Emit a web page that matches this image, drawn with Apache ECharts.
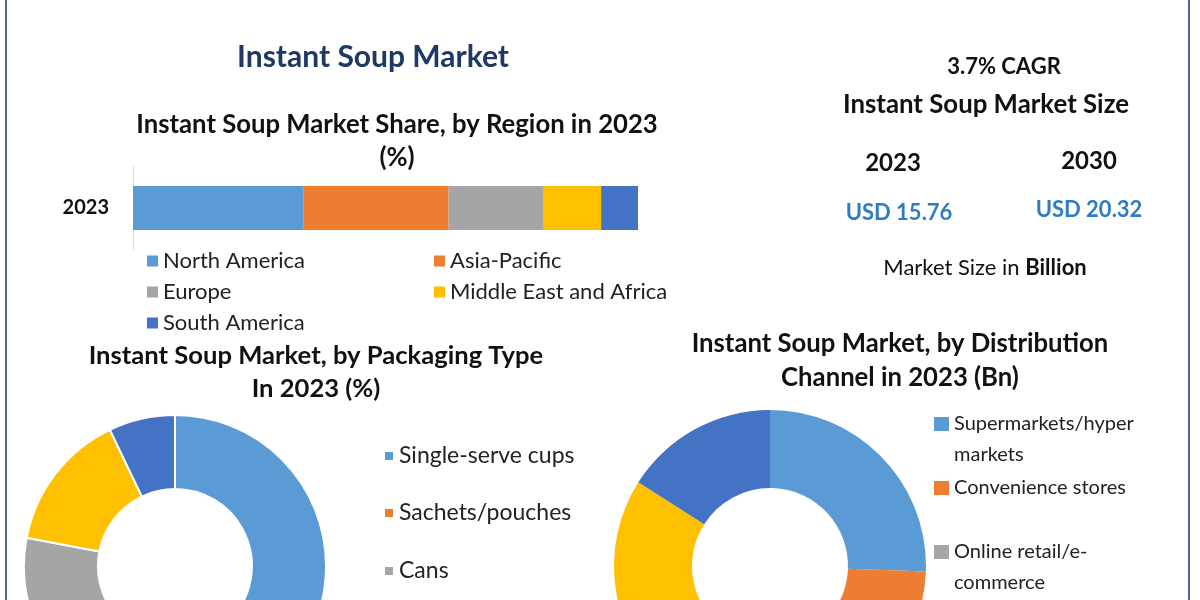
<!DOCTYPE html>
<html>
<head>
<meta charset="utf-8">
<script src="https://cdn.jsdelivr.net/npm/echarts@6/dist/echarts.min.js"></script>
<style>
  html, body { margin: 0; padding: 0; background: #fff; }
  #chart { width: 1200px; height: 600px; }
</style>
</head>
<body>
<div id="chart"></div>
<script>
// ---- data ----
const barCategories = ['2023'];
const regionNames = ['North America', 'Asia-Pacific', 'Europe', 'Middle East and Africa', 'South America'];
const regionShares = [33.7, 28.8, 18.7, 11.5, 7.3];

const packagingNames = ['Single-serve cups', 'Sachets/pouches', 'Cans', 'Tetra packs', 'Others'];
const packagingShares = [42.0, 16.0, 20.0, 14.9, 7.1];

const channelNames = ['Supermarkets/hyper markets', 'Convenience stores', 'Online retail/e-commerce', 'Specialty stores', 'Foodservice'];
const channelValues = [4.03, 3.0, 2.6, 3.61, 2.52];

const cagrText = '3.7% CAGR';
const sizeYears = ['2023', '2030'];
const sizeValues = ['USD 15.76', 'USD 20.32'];

// ---- style ----
const palette = ['#5B9BD5', '#ED7D31', '#A5A5A5', '#FFC000', '#4472C4'];
const FONT = 'Lato';

const chart = echarts.init(document.getElementById('chart'));

function t(text, x, y, size, opts) {
  opts = opts || {};
  return {
    text: text,
    left: x, top: y,
    textAlign: 'center', textVerticalAlign: 'middle',
    padding: 0,
    textStyle: Object.assign({
      fontFamily: FONT, fontSize: size, fontWeight: 'bold', color: '#111',
      lineHeight: opts.lineHeight || Math.round(size * 1.3)
    }, opts.style || {})
  };
}

const titles = [
  t('Instant Soup Market', 373, 57, 30, { style: { color: '#1F3864' } }),
  t('Instant Soup Market Share, by Region in 2023\n(%)', 397, 141, 25.7, { lineHeight: 33 }),
  t('Instant Soup Market, by Packaging Type\nIn 2023 (%)', 316, 372, 25.6, { lineHeight: 33 }),
  t('Instant Soup Market, by Distribution\nChannel in 2023 (Bn)', 900, 361, 25.7, { lineHeight: 34 }),
  t(cagrText, 1004, 67, 22),
  t('Instant Soup Market Size', 986, 105, 25.8),
  t(sizeYears[0], 893, 163, 24),
  t(sizeYears[1], 1089, 161, 24),
  t(sizeValues[0], 899, 213, 22, { style: { color: '#2E7CC4', letterSpacing: -1 } }),
  t(sizeValues[1], 1089, 210, 22, { style: { color: '#2E7CC4', letterSpacing: -1 } }),
  {
    text: '{a|Market Size in }{b|Billion}',
    left: 985, top: 268, textAlign: 'center', textVerticalAlign: 'middle', padding: 0,
    textStyle: {
      fontWeight: 'normal',
      rich: {
        a: { fontFamily: FONT, fontSize: 22, fontWeight: 'normal', color: '#111' },
        b: { fontFamily: FONT, fontSize: 22, fontWeight: 'bold', color: '#111' }
      }
    }
  }
];

const barLegendText = { fontFamily: FONT, fontSize: 22, color: '#222', lineHeight: 22 };

const legends = [
  { orient: 'vertical', left: 147, top: 250, padding: 0, itemWidth: 11, itemHeight: 11, itemGap: 9,
    icon: 'rect', data: [regionNames[0], regionNames[2], regionNames[4]], textStyle: barLegendText, selectedMode: false },
  { orient: 'vertical', left: 434, top: 250, padding: 0, itemWidth: 11, itemHeight: 11, itemGap: 9,
    icon: 'rect', data: [regionNames[1], regionNames[3]], textStyle: barLegendText, selectedMode: false }
];

// packaging legend: one row per item
const pkRowCenters = [456, 513, 571, 629, 687];
packagingNames.forEach(function (name, i) {
  legends.push({
    orient: 'vertical', left: 383, top: pkRowCenters[i] - 12, padding: 0,
    itemWidth: 10, itemHeight: 10, icon: 'rect', selectedMode: false,
    data: [name],
    textStyle: { fontFamily: FONT, fontSize: 23, color: '#222', lineHeight: 24 }
  });
});

// distribution-channel legend: icon next to the first text row
const chRowCenters = [424, 488, 552, 616, 680];
const chLabels = ['Supermarkets/hyper\nmarkets', 'Convenience stores', 'Online retail/e-\ncommerce', 'Specialty stores', 'Foodservice'];
channelNames.forEach(function (name, i) {
  const twoLine = chLabels[i].indexOf('\n') >= 0;
  const lbl = twoLine ? ' \n' + chLabels[i] : chLabels[i];
  const blockH = twoLine ? 93 : 31;
  legends.push({
    orient: 'vertical', left: 934, top: chRowCenters[i] - blockH / 2, padding: 0,
    itemWidth: 15, itemHeight: 14, icon: 'rect', selectedMode: false,
    data: [name],
    formatter: function () { return lbl; },
    textStyle: { fontFamily: FONT, fontSize: 20, color: '#222', lineHeight: 31 }
  });
});

const barSeries = regionNames.map(function (name, i) {
  return {
    type: 'bar', name: name, stack: 'share',
    data: [regionShares[i]],
    barWidth: 44,
    itemStyle: { color: palette[i] },
    emphasis: { disabled: true }
  };
});

const option = {
  backgroundColor: '#fff',
  animation: false,
  title: titles,
  legend: legends,
  grid: { left: 133, top: 166, width: 505, height: 84 },
  xAxis: { type: 'value', min: 0, max: 100, show: false },
  yAxis: {
    type: 'category', data: barCategories,
    axisLine: { lineStyle: { color: '#d9d9d9', width: 1 } },
    axisTick: { show: false },
    axisLabel: { fontFamily: FONT, fontSize: 20, fontWeight: 'bold', color: '#111', margin: 24 }
  },
  series: barSeries.concat([
    {
      type: 'pie', name: 'Packaging Type',
      center: [175, 566], radius: [77, 151],
      startAngle: 90, clockwise: true,
      label: { show: false }, labelLine: { show: false },
      emphasis: { disabled: true },
      itemStyle: { borderColor: '#fff', borderWidth: 2 },
      color: palette,
      data: packagingNames.map(function (n, i) { return { name: n, value: packagingShares[i] }; })
    },
    {
      type: 'pie', name: 'Distribution Channel',
      center: [770, 566], radius: [78, 156],
      startAngle: 90, clockwise: true,
      label: { show: false }, labelLine: { show: false },
      emphasis: { disabled: true },
      itemStyle: { borderColor: '#fff', borderWidth: 0 },
      color: palette,
      data: channelNames.map(function (n, i) { return { name: n, value: channelValues[i] }; })
    }
  ]),
  graphic: [
    { type: 'line', shape: { x1: 6, y1: 0, x2: 6, y2: 600 }, style: { stroke: '#4F6A8C', lineWidth: 2 }, silent: true },
    { type: 'line', shape: { x1: 1189, y1: 0, x2: 1189, y2: 600 }, style: { stroke: '#4F6A8C', lineWidth: 2 }, silent: true }
  ]
};

chart.setOption(option);
</script>
</body>
</html>
